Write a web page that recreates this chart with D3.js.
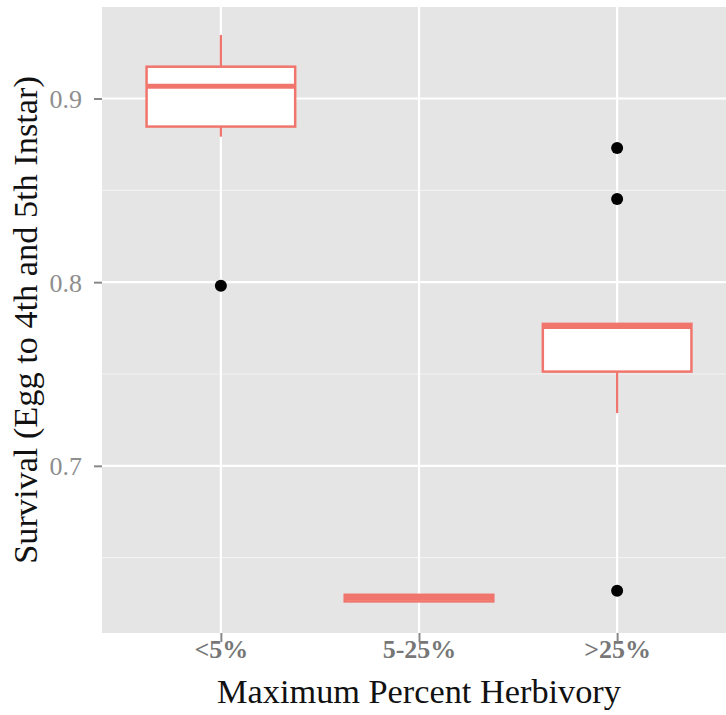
<!DOCTYPE html>
<html><head><meta charset="utf-8">
<script src="https://cdn.jsdelivr.net/npm/d3@7"></script>
<style>body{margin:0;background:#fff}svg{display:block}</style>
</head><body><div id="chart"></div>
<script>
const categories = ["<5%", "5-25%", ">25%"];
const whiskerLow  = [0.8792, 0.6262, 0.7287];
const q1          = [0.8847, 0.6262, 0.7513];
const medians     = [0.9066, 0.6280, 0.7758];
const q3          = [0.9173, 0.6298, 0.7773];
const whiskerHigh = [0.9346, 0.6298, 0.7773];
const outliers = [
  {cat: "<5%", v: 0.798},
  {cat: ">25%", v: 0.873},
  {cat: ">25%", v: 0.8453},
  {cat: ">25%", v: 0.632}
];
const yMajor = [0.7, 0.8, 0.9];
const yMinor = [0.65, 0.75, 0.85];
const yDomain = [0.609, 0.9498];
const xTitle = "Maximum Percent Herbivory";
const yTitle = "Survival (Egg to 4th and 5th Instar)";

const W = 726, H = 715;
const panel = {left: 102, right: 736, top: 7, bottom: 633};
const svg = d3.select("#chart").append("svg").attr("width", W).attr("height", H);

const x = d3.scalePoint().domain(categories).range([panel.left, panel.right]).padding(0.6);
const y = d3.scaleLinear().domain(yDomain).range([panel.bottom, panel.top]);
const boxW = x.step() * 0.75;
const font = "'Liberation Serif', 'Times New Roman', serif";

svg.append("rect").attr("x", panel.left).attr("y", panel.top)
  .attr("width", panel.right - panel.left).attr("height", panel.bottom - panel.top)
  .attr("fill", "#E5E5E5");

const grid = svg.append("g");
grid.selectAll(".minor").data(yMinor).join("line")
  .attr("x1", panel.left).attr("x2", panel.right)
  .attr("y1", d => y(d)).attr("y2", d => y(d))
  .attr("stroke", "#F2F2F2").attr("stroke-width", 1.2);
grid.selectAll(".major").data(yMajor).join("line")
  .attr("x1", panel.left).attr("x2", panel.right)
  .attr("y1", d => y(d)).attr("y2", d => y(d))
  .attr("stroke", "#FFFFFF").attr("stroke-width", 2.2);
grid.selectAll(".vmajor").data(categories).join("line")
  .attr("y1", panel.top).attr("y2", panel.bottom)
  .attr("x1", d => x(d)).attr("x2", d => x(d))
  .attr("stroke", "#FFFFFF").attr("stroke-width", 2.2);

// Boxplots
const boxes = categories.map((c, i) => ({c, lo: whiskerLow[i], q1: q1[i], med: medians[i], q3: q3[i], hi: whiskerHigh[i]}));
const col = "#F0766D";
const bg = svg.append("g");
bg.selectAll(".wl").data(boxes).join("line")
  .attr("x1", d => x(d.c)).attr("x2", d => x(d.c))
  .attr("y1", d => y(d.lo)).attr("y2", d => y(d.q1))
  .attr("stroke", col).attr("stroke-width", 2.2);
bg.selectAll(".wh").data(boxes).join("line")
  .attr("x1", d => x(d.c)).attr("x2", d => x(d.c))
  .attr("y1", d => y(d.hi)).attr("y2", d => y(d.q3))
  .attr("stroke", col).attr("stroke-width", 2.2);
bg.selectAll(".box").data(boxes).join("rect")
  .attr("x", d => x(d.c) - boxW / 2).attr("width", boxW)
  .attr("y", d => y(d.q3)).attr("height", d => y(d.q1) - y(d.q3))
  .attr("fill", "#FFFFFF").attr("stroke", col).attr("stroke-width", 2.5);
bg.selectAll(".med").data(boxes).join("line")
  .attr("x1", d => x(d.c) - boxW / 2).attr("x2", d => x(d.c) + boxW / 2)
  .attr("y1", d => y(d.med)).attr("y2", d => y(d.med))
  .attr("stroke", col).attr("stroke-width", 5);

svg.append("g").selectAll("circle").data(outliers).join("circle")
  .attr("cx", d => x(d.cat)).attr("cy", d => y(d.v)).attr("r", 6)
  .attr("fill", "#000");

// Axes
const yAxis = svg.append("g").attr("transform", `translate(${panel.left},0)`)
  .call(d3.axisLeft(y).tickValues(yMajor).tickFormat(d3.format(".1f")).tickSize(8).tickPadding(12));
const xAxis = svg.append("g").attr("transform", `translate(0,${panel.bottom})`)
  .call(d3.axisBottom(x).tickSize(9).tickPadding(-2));
[yAxis, xAxis].forEach(a => {
  a.select(".domain").remove();
  a.selectAll(".tick line").attr("stroke", "#888").attr("stroke-width", 2);
  a.selectAll(".tick text").attr("font-family", font).attr("font-size", 26);
});
yAxis.selectAll(".tick text").attr("dy", "0.34em").attr("fill", "#8e8e8e");
xAxis.selectAll(".tick text").attr("dy", "0.71em").attr("fill", "#777")
  .attr("font-weight", "bold");
xAxis.selectAll(".tick line").raise();

svg.append("text").attr("x", x(categories[1])).attr("y", 703)
  .attr("text-anchor", "middle").attr("font-family", font).attr("font-size", 34.3)
  .attr("fill", "#111").text(xTitle);
svg.append("text").attr("transform", `translate(37,${(panel.top + panel.bottom) / 2}) rotate(-90)`)
  .attr("text-anchor", "middle").attr("font-family", font).attr("font-size", 34.3)
  .attr("fill", "#111").text(yTitle);
</script></body></html>
